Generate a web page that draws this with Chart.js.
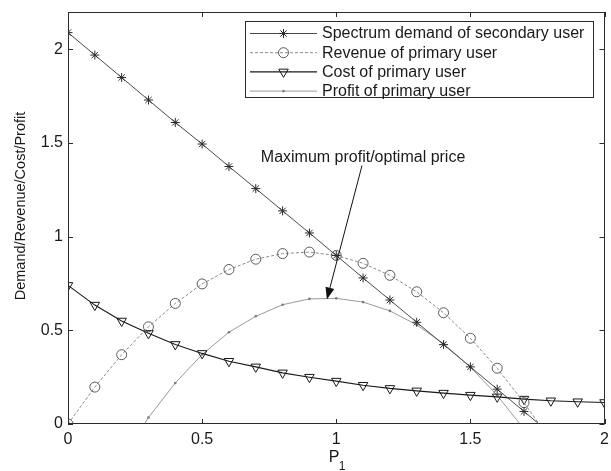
<!DOCTYPE html>
<html>
<head>
<meta charset="utf-8">
<script src="https://cdn.jsdelivr.net/npm/chart.js"></script>
<style>
  html, body { margin: 0; padding: 0; background: #fff; overflow: hidden; }
  #wrap { width: 611px; height: 471px; }
  canvas { display: block; }
</style>
</head>
<body>
<div id="wrap"><canvas id="c" width="611" height="471"></canvas></div>
<script>
// Sampled price points P1 (markers every 0.1)
const priceGrid = [0, 0.1, 0.2, 0.3, 0.4, 0.5, 0.6, 0.7, 0.8, 0.9, 1.0,
                   1.1, 1.2, 1.3, 1.4, 1.5, 1.6, 1.7, 1.8, 1.9, 2.0];

// Spectrum demand of secondary user, P1 = 0 .. 1.7
const demand = [2.09, 1.97, 1.85, 1.73, 1.61, 1.495, 1.375, 1.257, 1.138,
                1.02, 0.90, 0.78, 0.662, 0.543, 0.424, 0.305, 0.186, 0.067];
const demandZero = 1.756;

// Revenue of primary user, P1 = 0 .. 1.7
const revenue = [0, 0.197, 0.37, 0.519, 0.644, 0.748, 0.825, 0.88, 0.91,
                 0.918, 0.90, 0.858, 0.794, 0.706, 0.594, 0.458, 0.298, 0.114];
const revenueZero = 1.756;

// Cost of primary user, P1 = 0 .. 2
const cost = [0.74, 0.635, 0.55, 0.484, 0.425, 0.377, 0.335, 0.305, 0.273,
              0.25, 0.229, 0.207, 0.19, 0.177, 0.165, 0.154, 0.145, 0.133,
              0.124, 0.119, 0.115];

// Profit of primary user, P1 = 0.3 .. 1.6, plus where it crosses zero
const profitGrid = [0.3, 0.4, 0.5, 0.6, 0.7, 0.8, 0.9, 1.0, 1.1, 1.2, 1.3, 1.4, 1.5, 1.6];
const profit = [0.035, 0.219, 0.371, 0.49, 0.575, 0.637, 0.668, 0.671,
                0.651, 0.604, 0.529, 0.429, 0.304, 0.153];
const profitZeros = [0.285, 1.685];

const xTicks = [0, 0.5, 1, 1.5, 2];
const yTicks = [0, 0.5, 1, 1.5, 2];

const seriesNames = [
  'Spectrum demand of secondary user',
  'Revenue of primary user',
  'Cost of primary user',
  'Profit of primary user'
];

// Arrow pointing at the profit maximum: label anchor, arrow tail, arrow tip
const noteText = 'Maximum profit/optimal price';
const noteAt = [1.1, 1.425];
const arrowFrom = [1.096, 1.38];
const arrowTo = [0.965, 0.665];

const xTitle = 'P';
const xTitleSub = '1';
const yTitle = 'Demand/Revenue/Cost/Profit';

const FONT = '"Liberation Sans", Arial, Helvetica, sans-serif';

function toPoints(xs, ys) {
  return ys.map((y, i) => ({ x: xs[i], y: y }));
}

const demandPts = toPoints(priceGrid, demand).concat([{ x: demandZero, y: 0, edge: true }]);
const revenuePts = toPoints(priceGrid, revenue).concat([{ x: revenueZero, y: 0, edge: true }]);
const costPts = toPoints(priceGrid, cost);
const profitPts = [{ x: profitZeros[0], y: 0, edge: true }]
  .concat(toPoints(profitGrid, profit))
  .concat([{ x: profitZeros[1], y: 0, edge: true }]);

// hide the marker on the zero-crossing end points
const markerSize = r => ctx => (ctx.raw && ctx.raw.edge) ? 0 : r;

const datasets = [
  {
    label: seriesNames[0], data: demandPts,
    borderColor: '#4a4a4a', borderWidth: 1,
    pointStyle: 'star', pointRadius: markerSize(4.5),
    pointBorderColor: '#2a2a2a', pointBackgroundColor: 'rgba(0,0,0,0)', pointBorderWidth: 1
  },
  {
    label: seriesNames[1], data: revenuePts,
    borderColor: '#8a8a8a', borderWidth: 1, borderDash: [3, 2],
    pointStyle: 'circle', pointRadius: markerSize(5),
    pointBorderColor: '#5a5a5a', pointBackgroundColor: 'rgba(0,0,0,0)', pointBorderWidth: 1
  },
  {
    label: seriesNames[2], data: costPts,
    borderColor: '#1a1a1a', borderWidth: 1.1,
    pointStyle: 'triangle', rotation: 180, pointRadius: markerSize(5.5),
    pointBorderColor: '#1a1a1a', pointBackgroundColor: 'rgba(0,0,0,0)', pointBorderWidth: 1
  },
  {
    label: seriesNames[3], data: profitPts,
    borderColor: '#9a9a9a', borderWidth: 1,
    pointStyle: 'circle', pointRadius: markerSize(1.3),
    pointBorderColor: '#7a7a7a', pointBackgroundColor: '#7a7a7a', pointBorderWidth: 0
  }
];
datasets.forEach(d => { d.tension = 0; d.fill = false; d.pointHoverRadius = 0; });

function markerDraw(ctx, ds, x, y) {
  const opts = {
    pointStyle: ds.pointStyle,
    rotation: ds.rotation || 0,
    radius: typeof ds.pointRadius === 'function' ? ds.pointRadius({ raw: {} }) : ds.pointRadius,
    borderWidth: ds.pointBorderWidth
  };
  ctx.save();
  ctx.strokeStyle = ds.pointBorderColor;
  ctx.fillStyle = ds.pointBackgroundColor;
  ctx.lineWidth = ds.pointBorderWidth || 1;
  if (Chart.helpers && Chart.helpers.drawPoint) {
    Chart.helpers.drawPoint(ctx, opts, x, y);
  }
  ctx.restore();
}

const decorations = {
  id: 'decorations',
  afterDatasetsDraw(chart) {
    const ctx = chart.ctx;
    const a = chart.chartArea;
    const xs = chart.scales.x, ys = chart.scales.y;

    // axes box
    ctx.save();
    ctx.strokeStyle = '#2b2b2b';
    ctx.lineWidth = 1;
    ctx.strokeRect(Math.round(a.left) + 0.5, Math.round(a.top) + 0.5,
                   Math.round(a.right - a.left) - 1, Math.round(a.bottom - a.top) - 1);

    // inward tick marks on all four sides
    const tl = 5;
    ctx.beginPath();
    xTicks.forEach(v => {
      const px = Math.round(xs.getPixelForValue(v)) + 0.5;
      ctx.moveTo(px, a.bottom); ctx.lineTo(px, a.bottom - tl);
      ctx.moveTo(px, a.top); ctx.lineTo(px, a.top + tl);
    });
    yTicks.forEach(v => {
      const py = Math.round(ys.getPixelForValue(v)) + 0.5;
      ctx.moveTo(a.left, py); ctx.lineTo(a.left + tl, py);
      ctx.moveTo(a.right, py); ctx.lineTo(a.right - tl, py);
    });
    ctx.stroke();

    // annotation with arrow
    const tx = xs.getPixelForValue(arrowFrom[0]), ty = ys.getPixelForValue(arrowFrom[1]);
    const hx = xs.getPixelForValue(arrowTo[0]), hy = ys.getPixelForValue(arrowTo[1]);
    const ang = Math.atan2(hy - ty, hx - tx);
    const headLen = 12, headW = 4.5;
    const bx = hx - headLen * Math.cos(ang), by = hy - headLen * Math.sin(ang);
    ctx.strokeStyle = '#111';
    ctx.fillStyle = '#111';
    ctx.lineWidth = 1;
    ctx.beginPath();
    ctx.moveTo(tx, ty); ctx.lineTo(bx, by);
    ctx.stroke();
    ctx.beginPath();
    ctx.moveTo(hx, hy);
    ctx.lineTo(bx + headW * Math.sin(ang), by - headW * Math.cos(ang));
    ctx.lineTo(bx - headW * Math.sin(ang), by + headW * Math.cos(ang));
    ctx.closePath();
    ctx.fill();

    ctx.font = '16px ' + FONT;
    ctx.fillStyle = '#1a1a1a';
    ctx.textAlign = 'center';
    ctx.textBaseline = 'middle';
    ctx.fillText(noteText, xs.getPixelForValue(noteAt[0]), ys.getPixelForValue(noteAt[1]));

    // legend
    const lg = { left: 245.5, top: 21.5, right: 593.5, bottom: 97.5 };
    ctx.fillStyle = '#fff';
    ctx.fillRect(lg.left, lg.top, lg.right - lg.left, lg.bottom - lg.top);
    ctx.strokeStyle = '#2b2b2b';
    ctx.strokeRect(lg.left, lg.top, lg.right - lg.left, lg.bottom - lg.top);
    chart.data.datasets.forEach((ds, i) => {
      const ry = 33.5 + i * 19.2;
      ctx.save();
      ctx.strokeStyle = ds.borderColor;
      ctx.lineWidth = ds.borderWidth;
      ctx.setLineDash(ds.borderDash || []);
      ctx.beginPath();
      ctx.moveTo(250, ry); ctx.lineTo(317, ry);
      ctx.stroke();
      ctx.restore();
      markerDraw(ctx, ds, 283.5, ry);
      ctx.font = '16px ' + FONT;
      ctx.fillStyle = '#1a1a1a';
      ctx.textAlign = 'left';
      ctx.textBaseline = 'middle';
      ctx.fillText(ds.label, 322, ry + 0.5);
    });

    // axis titles
    ctx.fillStyle = '#1a1a1a';
    ctx.textAlign = 'center';
    ctx.textBaseline = 'middle';
    ctx.font = '16px ' + FONT;
    ctx.fillText(xTitle, 334, 458);
    ctx.font = '12px ' + FONT;
    ctx.fillText(xTitleSub, 342, 467);

    ctx.save();
    ctx.translate(21, 206);
    ctx.rotate(-Math.PI / 2);
    ctx.font = '14.5px ' + FONT;
    ctx.fillText(yTitle, 0, 0);
    ctx.restore();
    ctx.restore();
  }
};

const tickFont = { family: FONT, size: 16 };

new Chart(document.getElementById('c'), {
  type: 'line',
  data: { datasets: datasets },
  options: {
    responsive: false,
    animation: false,
    devicePixelRatio: 1,
    layout: { padding: { top: 12, right: 4, left: 0, bottom: 0 } },
    plugins: { legend: { display: false }, tooltip: { enabled: false }, title: { display: false } },
    events: [],
    scales: {
      x: {
        type: 'linear', min: 0, max: 2,
        grid: { display: false, drawTicks: false }, border: { display: false },
        ticks: { font: tickFont, color: '#1a1a1a', padding: 6, maxRotation: 0,
                 callback: v => String(v) },
        afterBuildTicks: s => { s.ticks = xTicks.map(v => ({ value: v })); },
        afterFit: s => { s.height = 47; s.paddingLeft = 0; s.paddingRight = 0; }
      },
      y: {
        type: 'linear', min: 0, max: 2.2,
        grid: { display: false, drawTicks: false }, border: { display: false },
        ticks: { font: tickFont, color: '#1a1a1a', padding: 5,
                 callback: v => String(v) },
        afterBuildTicks: s => { s.ticks = yTicks.map(v => ({ value: v })); },
        afterFit: s => { s.width = 68; s.paddingTop = 0; s.paddingBottom = 0; }
      }
    }
  },
  plugins: [decorations]
});
</script>
</body>
</html>
